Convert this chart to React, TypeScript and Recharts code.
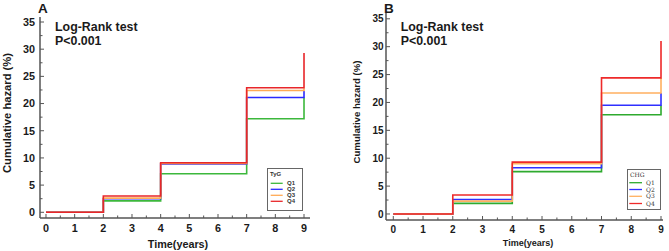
import { LineChart, Line, XAxis, YAxis, Legend } from "recharts";
import { ReactElement } from "react";

// follow-up years where the cumulative hazard steps
const years = [0, 2, 4, 7, 9];
const quartiles = ["Q1", "Q2", "Q3", "Q4"];

// panel A: TyG quartiles, cumulative hazard (%)
const tygQ1 = [0, 2.1, 7.1, 17.2, 21.1];
const tygQ2 = [0, 2.5, 8.9, 21.1, 22.3];
const tygQ3 = [0, 2.6, 9.0, 22.4, 22.8];
const tygQ4 = [0, 3.0, 9.1, 22.9, 29.3];

// panel B: CHG quartiles, cumulative hazard (%)
const chgQ1 = [0, 1.9, 7.6, 17.8, 19.5];
const chgQ2 = [0, 2.6, 8.3, 19.5, 21.7];
const chgQ3 = [0, 2.3, 9.0, 21.7, 24.4];
const chgQ4 = [0, 3.4, 9.3, 24.4, 31.0];

const xTicks = [0, 0.5, 1, 1.5, 2, 2.5, 3, 3.5, 4, 4.5, 5, 5.5, 6, 6.5, 7, 7.5, 8, 8.5, 9];
const yTicks = [0, 2.5, 5, 7.5, 10, 12.5, 15, 17.5, 20, 22.5, 25, 27.5, 30, 32.5, 35];

const AXIS = "#555";
const INK = "#1a1a1a";
const SANS = "Arial, 'Liberation Sans', sans-serif";

type PanelProps = {
  left: number;
  width: number;
  yWidth: number;
  xHeight: number;
  top: number;
  right: number;
  xDomain: [number, number];
  yDomain: [number, number];
  tickFont: number;
  yTickGap: number;
  xTickDy: number;
  series: number[][];
  colors: string[];
  yTitle: { x: number; y: number; size: number };
  xTitle: { x: number; y: number; size: number };
  legend: {
    title: string;
    left: number;
    top: number;
    w: number;
    h: number;
    serif: boolean;
    titleY: number;
    lineX: [number, number];
    lineY: number[];
    textX: number;
  };
};

const Panel = (p: PanelProps): ReactElement => {
  const rows = years.map((t, i) => {
    const row: Record<string, number> = { t };
    p.series.forEach((s, k) => {
      row[quartiles[k]] = s[i];
    });
    return row;
  });

  const xTick = (props: any) => {
    const { x, y, payload } = props;
    const major = Number.isInteger(payload.value);
    return (
      <g>
        <line x1={x} x2={x} y1={y} y2={y - (major ? 4 : 2.5)} stroke={AXIS} strokeWidth={1} />
        {major && (
          <text
            x={x}
            y={y + p.xTickDy}
            textAnchor="middle"
            fontFamily={SANS}
            fontWeight="bold"
            fontSize={p.tickFont}
            fill={INK}
          >
            {payload.value}
          </text>
        )}
      </g>
    );
  };

  const yTick = (props: any) => {
    const { x, y, payload } = props;
    const major = payload.value % 5 === 0;
    return (
      <g>
        <line x1={x} x2={x + (major ? 4 : 2.5)} y1={y} y2={y} stroke={AXIS} strokeWidth={1} />
        {major && (
          <text
            x={x - p.yTickGap}
            y={y + p.tickFont * 0.36}
            textAnchor="end"
            fontFamily={SANS}
            fontWeight="bold"
            fontSize={p.tickFont}
            fill={INK}
          >
            {payload.value}
          </text>
        )}
      </g>
    );
  };

  const lg = p.legend;
  const lgFont = lg.serif ? "'DejaVu Serif', 'Liberation Serif', serif" : SANS;

  return (
    <div style={{ position: "absolute", left: p.left, top: 0 }}>
      <LineChart
        width={p.width}
        height={251}
        data={rows}
        margin={{ top: p.top, right: p.right, bottom: 0, left: 0 }}
      >
        <XAxis
          dataKey="t"
          type="number"
          domain={p.xDomain}
          ticks={xTicks}
          allowDataOverflow
          interval={0}
          height={p.xHeight}
          tickSize={0}
          tickMargin={0}
          tickLine={false}
          axisLine={{ stroke: AXIS, strokeWidth: 1.5 }}
          tick={xTick}
          label={() => (
            <text
              x={p.xTitle.x}
              y={p.xTitle.y}
              textAnchor="middle"
              fontFamily={SANS}
              fontWeight="bold"
              fontSize={p.xTitle.size}
              fill={INK}
            >
              Time(years)
            </text>
          )}
        />
        <YAxis
          type="number"
          domain={p.yDomain}
          ticks={yTicks}
          allowDataOverflow
          interval={0}
          width={p.yWidth}
          tickSize={0}
          tickMargin={0}
          tickLine={false}
          axisLine={{ stroke: AXIS, strokeWidth: 1.5 }}
          tick={yTick}
          label={() => (
            <text
              x={p.yTitle.x}
              y={p.yTitle.y}
              transform={`rotate(-90 ${p.yTitle.x} ${p.yTitle.y})`}
              textAnchor="middle"
              fontFamily={SANS}
              fontWeight="bold"
              fontSize={p.yTitle.size}
              fill={INK}
            >
              Cumulative hazard (%)
            </text>
          )}
        />
        {quartiles.map((q, k) => (
          <Line
            key={q}
            dataKey={q}
            type="stepAfter"
            stroke={p.colors[k]}
            strokeWidth={1.6}
            dot={false}
            isAnimationActive={false}
          />
        ))}
        <Legend
          layout="vertical"
          align="center"
          verticalAlign="middle"
          wrapperStyle={{ left: lg.left, top: lg.top, width: lg.w, height: lg.h, margin: 0 }}
          content={() => (
            <svg width={lg.w} height={lg.h} style={{ display: "block" }}>
              <rect x={0.5} y={0.5} width={lg.w - 1} height={lg.h - 1} fill="#fff" stroke="#666" />
              <text
                x={3}
                y={lg.titleY}
                fontFamily={lgFont}
                fontWeight={lg.serif ? "normal" : "bold"}
                fontSize={6}
                fill="#333"
              >
                {lg.title}
              </text>
              {quartiles.map((q, k) => (
                <g key={q}>
                  <line
                    x1={lg.lineX[0]}
                    x2={lg.lineX[1]}
                    y1={lg.lineY[k]}
                    y2={lg.lineY[k]}
                    stroke={p.colors[k]}
                    strokeWidth={1.3}
                  />
                  <text
                    x={lg.textX}
                    y={lg.lineY[k] + 2}
                    fontFamily={lgFont}
                    fontWeight={lg.serif ? "normal" : "bold"}
                    fontSize={6}
                    fill="#333"
                  >
                    {q}
                  </text>
                </g>
              ))}
            </svg>
          )}
        />
      </LineChart>
    </div>
  );
};

const Heading = ({ x, letter }: { x: number; letter: string }): ReactElement => (
  <>
    <text x={x} y={12.5} fontFamily={SANS} fontWeight="bold" fontSize={13.5} fill={INK}>
      {letter}
    </text>
  </>
);

export default function App(): ReactElement {
  return (
    <div style={{ position: "absolute", left: 0, top: 0, width: 669, height: 251, background: "#fff" }}>
      <Panel
        left={0}
        width={334}
        yWidth={40}
        xHeight={33}
        top={17}
        right={24}
        xDomain={[-0.209, 9.209]}
        yDomain={[-1.05, 35.92]}
        tickFont={10.8}
        yTickGap={5}
        xTickDy={14}
        series={[tygQ1, tygQ2, tygQ3, tygQ4]}
        colors={["#3cb83c", "#2a2aff", "#ffaa55", "#e8262a"]}
        yTitle={{ x: 11, y: 113, size: 11.2 }}
        xTitle={{ x: 178, y: 248, size: 10.8 }}
        legend={{
          title: "TyG",
          left: 267,
          top: 168,
          w: 36,
          h: 43,
          serif: false,
          titleY: 8,
          lineX: [3.7, 15.7],
          lineY: [15.3, 21.3, 27.3, 33.3],
          textX: 20,
        }}
      />
      <Panel
        left={335}
        width={334}
        yWidth={51}
        xHeight={31}
        top={13}
        right={6}
        xDomain={[-0.245, 9.067]}
        yDomain={[-1.08, 36.04]}
        tickFont={10}
        yTickGap={2.5}
        xTickDy={13}
        series={[chgQ1, chgQ2, chgQ3, chgQ4]}
        colors={["#2eaa2e", "#3030ff", "#ffb060", "#ee2a2a"]}
        yTitle={{ x: 25.4, y: 112, size: 9.6 }}
        xTitle={{ x: 193, y: 245.5, size: 9 }}
        legend={{
          title: "CHG",
          left: 292,
          top: 169,
          w: 34,
          h: 41,
          serif: true,
          titleY: 7.7,
          lineX: [2.3, 15],
          lineY: [13.7, 20.5, 27.3, 34.5],
          textX: 19,
        }}
      />
      <svg
        width={669}
        height={251}
        style={{ position: "absolute", left: 0, top: 0, pointerEvents: "none" }}
      >
        <Heading x={38} letter="A" />
        <Heading x={384} letter="B" />
        <text fontFamily={SANS} fontWeight="bold" fontSize={12.4} fill={INK}>
          <tspan x={55} y={31}>Log-Rank test</tspan>
          <tspan x={55} y={45}>P&lt;0.001</tspan>
        </text>
        <text fontFamily={SANS} fontWeight="bold" fontSize={12.4} fill={INK}>
          <tspan x={400.7} y={31}>Log-Rank test</tspan>
          <tspan x={400.7} y={45}>P&lt;0.001</tspan>
        </text>
      </svg>
    </div>
  );
}
